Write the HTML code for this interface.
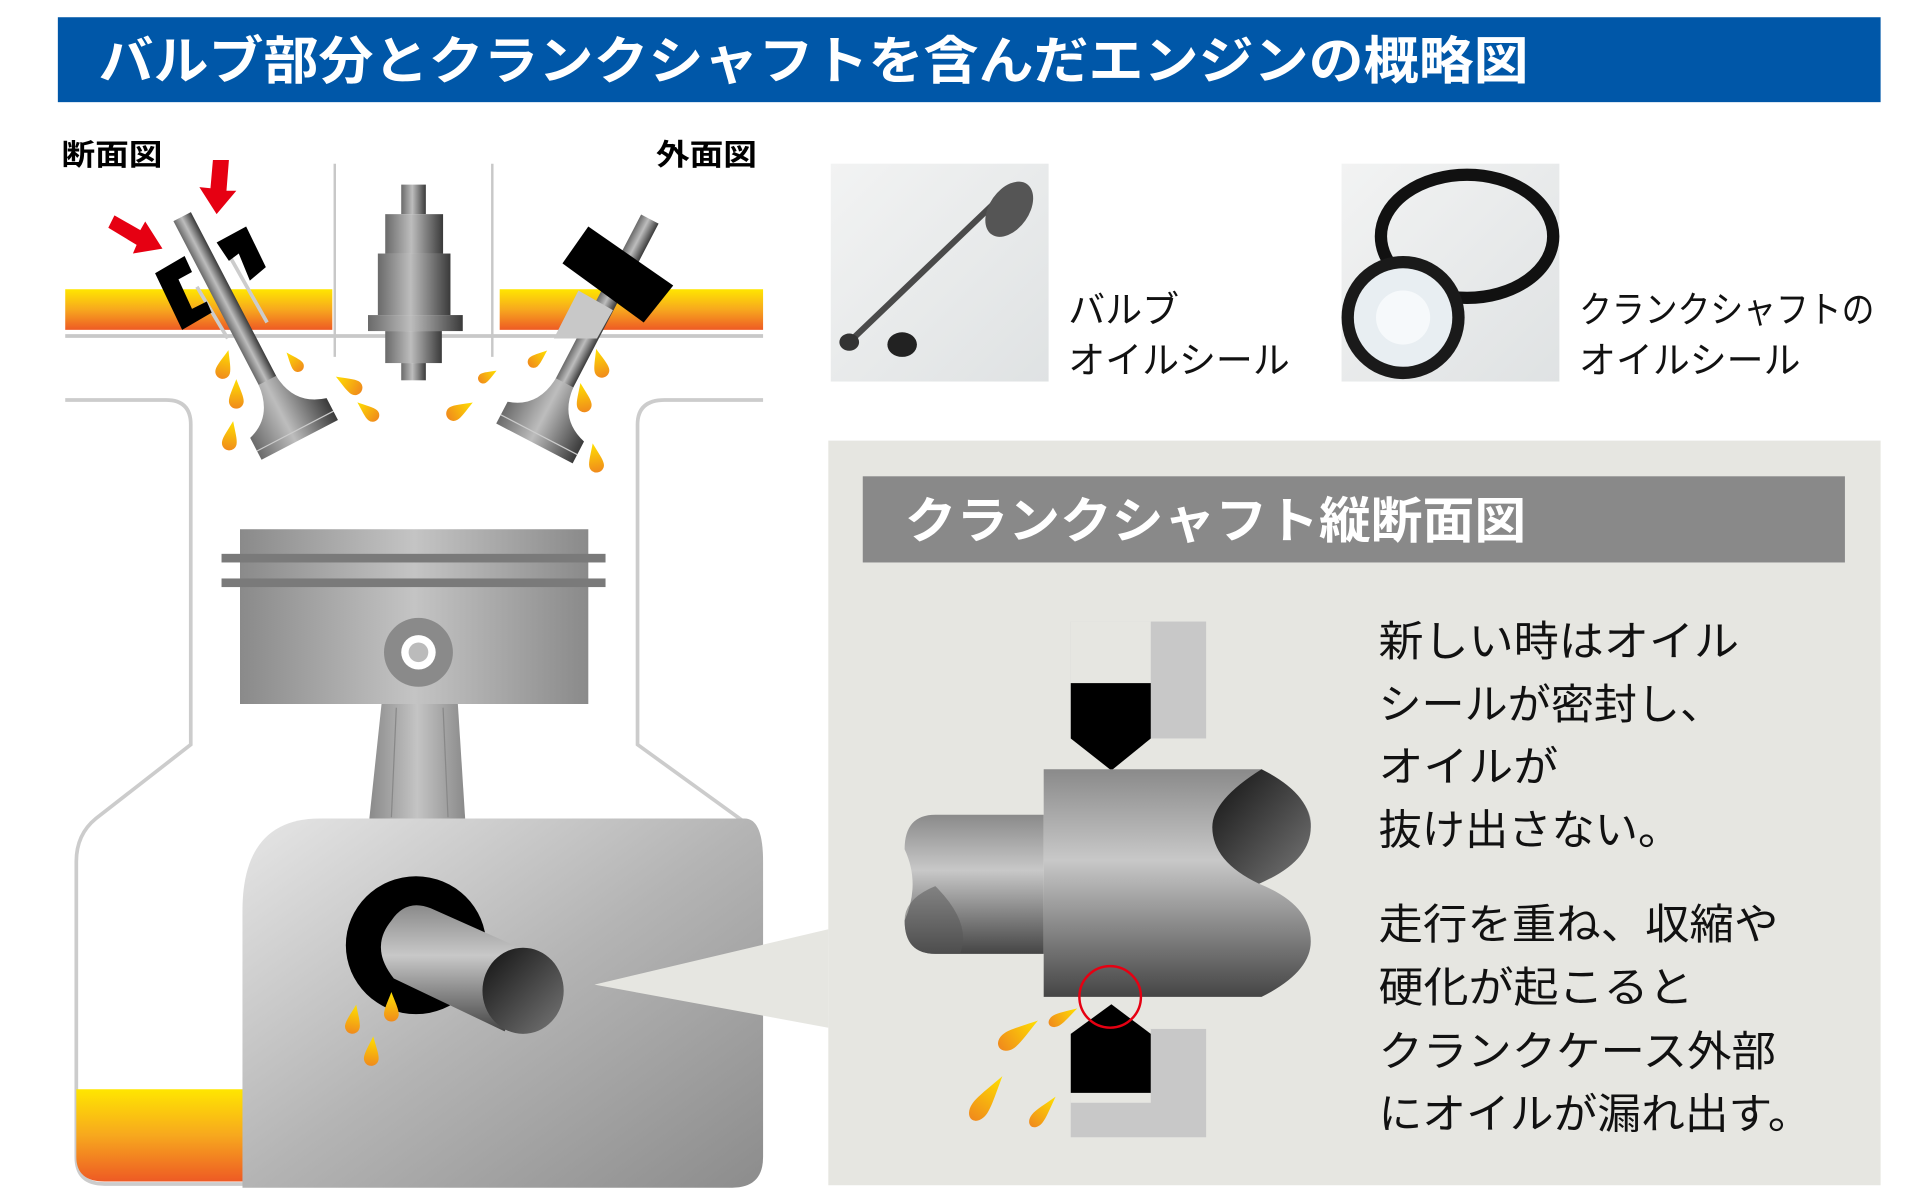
<!DOCTYPE html>
<html><head><meta charset="utf-8"><style>
html,body{margin:0;padding:0;background:#fff;}
svg{display:block;}
text{font-family:"Liberation Sans","Noto Sans CJK JP",sans-serif;}
</style></head><body>
<svg width="1920" height="1200" viewBox="0 0 1560 975" xmlns="http://www.w3.org/2000/svg">
<defs>
<linearGradient id="oil" x1="0" y1="0" x2="0" y2="1"><stop offset="0" stop-color="#ffe600"/><stop offset="0.5" stop-color="#f7a81e"/><stop offset="1" stop-color="#ee5a24"/></linearGradient>
<linearGradient id="drop" x1="0" y1="0" x2="0" y2="1"><stop offset="0" stop-color="#ffe000"/><stop offset="1" stop-color="#f08a1c"/></linearGradient>
<linearGradient id="metH" x1="0" y1="0" x2="1" y2="0"><stop offset="0" stop-color="#6a6a6a"/><stop offset="0.45" stop-color="#bdbdbd"/><stop offset="1" stop-color="#3a3a3a"/></linearGradient>
<linearGradient id="metV" x1="0" y1="0" x2="0" y2="1"><stop offset="0" stop-color="#8a8a8a"/><stop offset="0.4" stop-color="#c8c8c8"/><stop offset="1" stop-color="#454545"/></linearGradient>
<linearGradient id="piston" x1="0" y1="0" x2="1" y2="0"><stop offset="0" stop-color="#8a8a8a"/><stop offset="0.5" stop-color="#c4c4c4"/><stop offset="1" stop-color="#8a8a8a"/></linearGradient>
<linearGradient id="block" x1="0" y1="0" x2="1" y2="1"><stop offset="0" stop-color="#e6e6e6"/><stop offset="0.5" stop-color="#b4b4b4"/><stop offset="1" stop-color="#8c8c8c"/></linearGradient>
<linearGradient id="endcap" x1="0" y1="0" x2="1" y2="1"><stop offset="0" stop-color="#111"/><stop offset="1" stop-color="#777"/></linearGradient>
<linearGradient id="photo" x1="0" y1="0" x2="1" y2="1"><stop offset="0" stop-color="#f2f3f3"/><stop offset="1" stop-color="#dfe2e3"/></linearGradient>
<path id="dr" d="M0,-14 C3,-6 6,0 6,4 A6,6 0 0 1 -6,4 C-6,0 -3,-6 0,-14Z" fill="url(#drop)"/>
</defs>

<rect x="47" y="14" width="1481" height="69" fill="#0057a8"/>
<text x="80" y="64" font-size="42" font-weight="bold" fill="#fff" textLength="1162" lengthAdjust="spacingAndGlyphs">バルブ部分とクランクシャフトを含んだエンジンの概略図</text>

<text x="50" y="134" font-size="24" font-weight="bold" fill="#000" textLength="82" lengthAdjust="spacingAndGlyphs">断面図</text>
<text x="533" y="134" font-size="24" font-weight="bold" fill="#000" textLength="82" lengthAdjust="spacingAndGlyphs">外面図</text>

<line x1="272" y1="133" x2="272" y2="290" stroke="#c8c8c8" stroke-width="2"/>
<line x1="400" y1="133" x2="400" y2="290" stroke="#c8c8c8" stroke-width="2"/>
<rect x="53" y="235" width="217" height="33" fill="url(#oil)"/>
<rect x="406" y="235" width="214" height="33" fill="url(#oil)"/>
<line x1="53" y1="273" x2="620" y2="273" stroke="#c8c8c8" stroke-width="3"/>

<path d="M53,325 H135 Q155,325 155,345 V605 L78,665 Q62,678 62,700 V940 Q62,962 85,962 H200" fill="none" stroke="#cccccc" stroke-width="3"/>
<path d="M620,325 H540 Q518,325 518,345 V605 L605,668" fill="none" stroke="#cccccc" stroke-width="3"/>
<path d="M62,885 H200 V960 H85 Q62,960 62,940Z" fill="url(#oil)"/>

<g fill="url(#metH)">
<rect x="326" y="150" width="20" height="24"/>
<rect x="313" y="174" width="47" height="32"/>
<rect x="307" y="206" width="59" height="50"/>
<rect x="299" y="256" width="77" height="13"/>
<rect x="313" y="269" width="46" height="26"/>
<rect x="326" y="295" width="20" height="14"/>
</g>

<g transform="translate(148,176) rotate(-27.5)">
<rect x="-8" y="0" width="16" height="160" fill="url(#metH)"/>
<path d="M-8,150 Q-10,178 -34,185 L-34,205 L36,205 L36,185 Q10,178 8,150Z" fill="url(#metH)"/>
<line x1="-34" y1="197" x2="36" y2="197" stroke="#ccc" stroke-width="1"/>
</g>
<line x1="160" y1="233" x2="185" y2="275" stroke="#ccc" stroke-width="3"/>
<line x1="182" y1="200" x2="217" y2="262" stroke="#ccc" stroke-width="3"/>
<path d="M126,222 L150,208 L156,221 L145,227 L156,251 L168,245 L172,254 L148,268Z" fill="#000"/>
<path d="M176,197 L200,184 L216,217 L203,228 L194,206 L186,212Z" fill="#000"/>
<path d="M173,130 L186,130 L184,155 L192,155 L176,174 L162,152 L171,153Z" fill="#e60012"/>
<path d="M88,185 L93,175 L114,187 L118,180 L132,202 L108,206 L111,199Z" fill="#e60012"/>

<g transform="translate(528,178) rotate(27.5)">
<rect x="-8" y="0" width="16" height="160" fill="url(#metH)"/>
<path d="M-8,150 Q-10,178 -34,185 L-34,205 L36,205 L36,185 Q10,178 8,150Z" fill="url(#metH)"/>
<line x1="-34" y1="197" x2="36" y2="197" stroke="#ccc" stroke-width="1"/>
</g>
<path d="M470,236 L498,252 L485,275 L450,275Z" fill="#c8c8c8"/>
<path d="M478,184 L547,232 L523,262 L457,214Z" fill="#000"/>

<use href="#dr" transform="translate(182,298) rotate(15)"/>
<use href="#dr" transform="translate(192,322)"/>
<use href="#dr" transform="translate(187,356) rotate(10)"/>
<use href="#dr" transform="translate(240,295) rotate(-40) scale(0.8)"/>
<use href="#dr" transform="translate(285,313) rotate(-60)"/>
<use href="#dr" transform="translate(300,335) rotate(-50) scale(0.9)"/>
<use href="#dr" transform="translate(436,292) rotate(50) scale(0.8)"/>
<use href="#dr" transform="translate(395,306) rotate(60) scale(0.7)"/>
<use href="#dr" transform="translate(372,334) rotate(60)"/>
<use href="#dr" transform="translate(488,297) rotate(-15)"/>
<use href="#dr" transform="translate(474,325) rotate(-10)"/>
<use href="#dr" transform="translate(484,374) rotate(-10)"/>

<rect x="195" y="430" width="283" height="142" fill="url(#piston)"/>
<rect x="180" y="450" width="312" height="7" fill="#7a7a7a"/>
<rect x="180" y="470" width="312" height="7" fill="#7a7a7a"/>
<ellipse cx="340" cy="530" rx="28" ry="28" fill="#8a8a8a"/>
<circle cx="340" cy="530" r="14" fill="#fff"/>
<circle cx="340" cy="530" r="8" fill="#bbb"/>
<path d="M310,572 H372 L378,666 H300Z" fill="url(#piston)"/>
<line x1="322" y1="575" x2="318" y2="664" stroke="#888" stroke-width="1"/>
<line x1="360" y1="575" x2="364" y2="664" stroke="#888" stroke-width="1"/>

<path d="M260,665 H605 Q620,665 620,700 V940 Q620,965 595,965 H197 V740 Q197,665 260,665Z" fill="url(#block)"/>
<ellipse cx="338" cy="768" rx="57" ry="56" fill="#000"/>
<path d="M318,748 Q330,730 350,738 L440,778 L410,838 L320,795 Q300,770 318,748Z" fill="url(#metV)"/>
<ellipse cx="425" cy="805" rx="33" ry="35" fill="url(#endcap)"/>
<use href="#dr" transform="translate(287,830) rotate(10)"/>
<use href="#dr" transform="translate(318,820)"/>
<use href="#dr" transform="translate(302,856) rotate(5)"/>

<path d="M483,800 L673,755 V835Z" fill="#e6e6e1"/>

<rect x="675" y="133" width="177" height="177" fill="url(#photo)"/>
<line x1="690" y1="278" x2="808" y2="165" stroke="#4a4a4a" stroke-width="5"/>
<ellipse cx="820" cy="170" rx="25" ry="16" transform="rotate(-55 820 170)" fill="#555"/>
<ellipse cx="690" cy="278" rx="8" ry="7" fill="#333"/>
<ellipse cx="733" cy="280" rx="12" ry="10" fill="#222"/>
<text x="868" y="262" font-size="30" fill="#111">バルブ</text>
<text x="868" y="303" font-size="30" fill="#111">オイルシール</text>

<rect x="1090" y="133" width="177" height="177" fill="url(#photo)"/>
<ellipse cx="1192" cy="192" rx="70" ry="50" fill="none" stroke="#111" stroke-width="10"/>
<circle cx="1140" cy="258" r="50" fill="#1a1a1a"/>
<circle cx="1140" cy="258" r="40" fill="#e8eef2"/>
<circle cx="1140" cy="258" r="22" fill="#f6f9fb"/>
<text x="1283" y="262" font-size="30" fill="#111" textLength="240" lengthAdjust="spacingAndGlyphs">クランクシャフトの</text>
<text x="1283" y="303" font-size="30" fill="#111">オイルシール</text>

<rect x="673" y="358" width="855" height="605" fill="#e6e6e1"/>
<rect x="701" y="387" width="798" height="70" fill="#898989"/>
<text x="735" y="437" font-size="40" font-weight="bold" fill="#fff" textLength="505" lengthAdjust="spacingAndGlyphs">クランクシャフト縦断面図</text>

<rect x="870" y="505" width="110" height="95" fill="#c8c8c8"/>
<rect x="870" y="505" width="65" height="50" fill="#e6e6e1"/>
<path d="M870,555 H935 V600 L903,626 L870,600Z" fill="#000"/>
<rect x="870" y="836" width="110" height="88" fill="#c8c8c8"/>
<rect x="870" y="836" width="65" height="60" fill="#e6e6e1"/>
<path d="M870,840 L903,816 L935,840 V888 H870Z" fill="#000"/>

<path d="M760,662 H848 V775 H760 Q735,775 735,748 Q748,718 735,690 Q735,662 760,662Z" fill="url(#metV)"/>
<path d="M848,625 H1025 Q1068,650 1065,672 Q1060,700 1023,718 Q1065,735 1065,765 Q1065,790 1025,810 H848Z" fill="url(#metV)"/>
<path d="M1025,625 Q985,650 985,672 Q985,700 1023,718 Q1065,700 1065,672 Q1065,645 1025,625Z" fill="url(#endcap)"/>
<path d="M760,720 Q735,730 735,748 Q735,775 760,775 H780 Q790,750 760,720Z" fill="#555" opacity="0.5"/>
<circle cx="902" cy="810" r="25" fill="none" stroke="#e60012" stroke-width="2"/>
<use href="#dr" transform="translate(825,842) rotate(55) scale(1.2,1.6)"/>
<use href="#dr" transform="translate(862,827) rotate(60) scale(0.8,1.1)"/>
<use href="#dr" transform="translate(800,895) rotate(35) scale(1.2,1.8)"/>
<use href="#dr" transform="translate(846,905) rotate(40) scale(0.9,1.3)"/>

<g font-size="34" fill="#111">
<text x="1120" y="533" textLength="293" lengthAdjust="spacingAndGlyphs">新しい時はオイル</text>
<text x="1120" y="584" textLength="280" lengthAdjust="spacingAndGlyphs">シールが密封し、</text>
<text x="1120" y="635" textLength="146" lengthAdjust="spacingAndGlyphs">オイルが</text>
<text x="1120" y="686" textLength="246" lengthAdjust="spacingAndGlyphs">抜け出さない。</text>
<text x="1120" y="763" textLength="325" lengthAdjust="spacingAndGlyphs">走行を重ね、収縮や</text>
<text x="1120" y="814" textLength="256" lengthAdjust="spacingAndGlyphs">硬化が起こると</text>
<text x="1120" y="866" textLength="323" lengthAdjust="spacingAndGlyphs">クランクケース外部</text>
<text x="1120" y="917" textLength="352" lengthAdjust="spacingAndGlyphs">にオイルが漏れ出す。</text>
</g>
</svg>
</body></html>
